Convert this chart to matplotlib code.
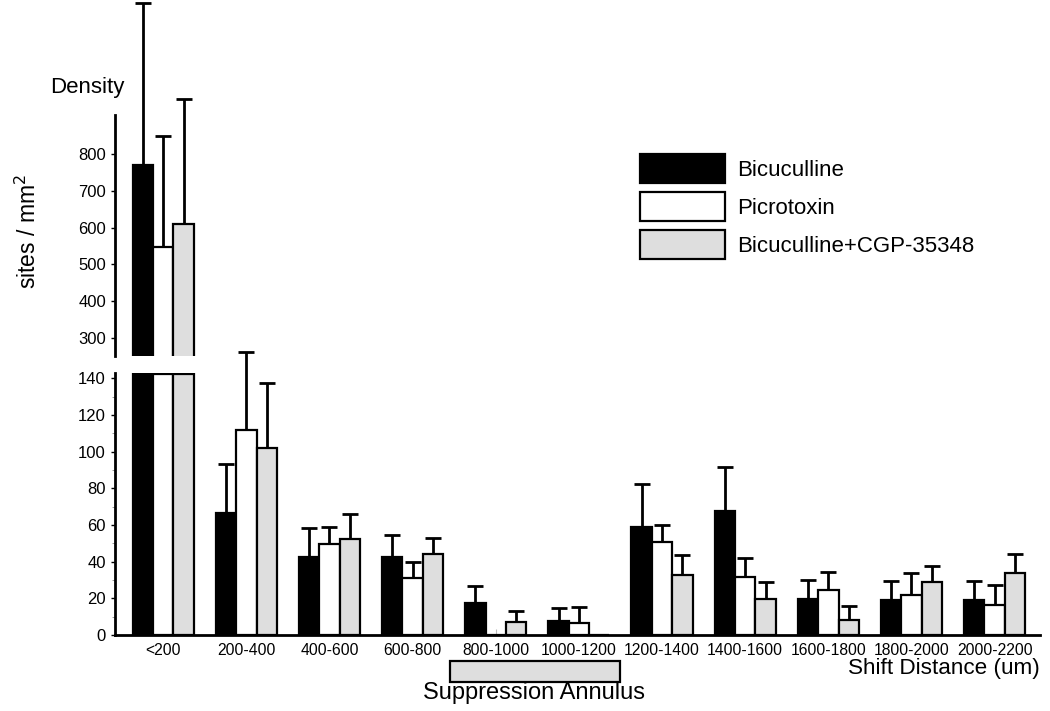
import matplotlib
matplotlib.use("Agg")
import matplotlib.pyplot as plt
from matplotlib.patches import Patch, Rectangle
import numpy as np

plt.rcParams['font.family'] = ['Liberation Sans', 'DejaVu Sans']

categories = ['<200', '200-400', '400-600', '600-800', '800-1000', '1000-1200',
              '1200-1400', '1400-1600', '1600-1800', '1800-2000', '2000-2200']
series = ['Bicuculline', 'Picrotoxin', 'Bicuculline+CGP-35348']
colors = ['black', 'white', '#dedede']

bicuculline = [770, 66.6, 42.3, 42.8, 17.4, 7.8, 59.2, 67.9, 19.4, 19.1, 18.9]
picrotoxin = [548, 112, 49.9, 31.2, 0, 6.5, 50.5, 31.6, 24.5, 22, 16.4]
bic_cgp = [610, 101.8, 52.6, 44.3, 7.1, 0, 32.5, 19.6, 8.4, 28.7, 33.6]

bicuculline_err = [440, 27, 16, 12, 9.5, 7.2, 23, 23.8, 10.8, 10.5, 10.3]
picrotoxin_err = [302, 42.5, 9, 8.6, 0, 8.9, 9.8, 10.5, 9.8, 11.6, 10.8]
bic_cgp_err = [339, 35.8, 13.4, 8.5, 6.1, 0, 10.9, 9.3, 7.6, 8.7, 10.5]

values = [bicuculline, picrotoxin, bic_cgp]
errors = [bicuculline_err, picrotoxin_err, bic_cgp_err]

low_lim = (0, 143)
high_lim = (251, 906)

fig = plt.figure(figsize=(10.5, 7.11), dpi=100)
ax_lo = fig.add_axes([0.1095, 0.1069, 0.8805, 0.3685])
ax_hi = fig.add_axes([0.1095, 0.4993, 0.8805, 0.3390])
ax_hi.patch.set_visible(False)

x = np.arange(len(categories))
width = 0.245
lw = 1.6

for i, (vals, errs, col) in enumerate(zip(values, errors, colors)):
    vals = np.array(vals, dtype=float)
    errs = np.array(errs, dtype=float)
    pos = x + (i - 1) * width
    # lower panel: bars cut at the break
    ax_lo.bar(pos, np.minimum(vals, low_lim[1] - 0.5), width, color=col,
              edgecolor='black', linewidth=lw, zorder=2)
    show = (errs > 0) & (vals < low_lim[1])
    ax_lo.errorbar(pos[show], vals[show], yerr=[np.zeros(show.sum()), errs[show]],
                   fmt='none', ecolor='black', elinewidth=2, capsize=6, capthick=2,
                   clip_on=False, zorder=1)
    # upper panel: only the tall group
    big = vals > low_lim[1]
    ax_hi.bar(pos[big], vals[big], width, color=col, edgecolor='black',
              linewidth=lw, zorder=2)
    ax_hi.errorbar(pos[big], vals[big], yerr=[np.zeros(big.sum()), errs[big]],
                   fmt='none', ecolor='black', elinewidth=2, capsize=6, capthick=2,
                   clip_on=False, zorder=1)

for ax in (ax_lo, ax_hi):
    ax.set_xlim(-0.58, 10.54)
    for s in ('top', 'right'):
        ax.spines[s].set_visible(False)
    ax.spines['left'].set_linewidth(2)
    ax.tick_params(axis='y', labelsize=12, length=3, width=1, direction='out')

ax_lo.set_ylim(*low_lim)
ax_lo.set_yticks(np.arange(0, 141, 20))
ax_lo.set_yticks(np.arange(10, 141, 20), minor=True)
ax_lo.tick_params(axis='y', which='minor', length=2, color='#888888')
ax_lo.spines['bottom'].set_linewidth(2)
ax_lo.set_xticks(x)
ax_lo.set_xticklabels(categories, fontsize=11.3)
ax_lo.tick_params(axis='x', direction='in', length=4, color='#bbbbbb', pad=6)

ax_hi.set_ylim(*high_lim)
ax_hi.set_yticks(np.arange(300, 801, 100))
ax_hi.spines['bottom'].set_visible(False)
ax_hi.set_xticks([])

fig.text(0.048, 0.869, 'Density', fontsize=16)
fig.text(0.027, 0.674, 'sites / mm$^2$', fontsize=16.5, rotation=90,
         ha='center', va='center')

handles = [Patch(facecolor=c, edgecolor='black', linewidth=1.6) for c in colors]
fig.legend(handles, series, loc='upper left', bbox_to_anchor=(0.6095, 0.783),
           frameon=False, fontsize=16, handlelength=3.83, handleheight=1.6,
           handletextpad=0.55, labelspacing=0.42, borderaxespad=0,
           borderpad=0)

fig.text(0.99, 0.06, 'Shift Distance (um)', fontsize=16.2, ha='right', va='center')
fig.patches.append(Rectangle((0.4286, 0.041), 0.162, 0.029, transform=fig.transFigure,
                             facecolor='#dedede', edgecolor='black', linewidth=1.6))
fig.text(0.509, 0.025, 'Suppression Annulus', fontsize=17, ha='center', va='center')

fig.savefig('out.png', dpi=100)
